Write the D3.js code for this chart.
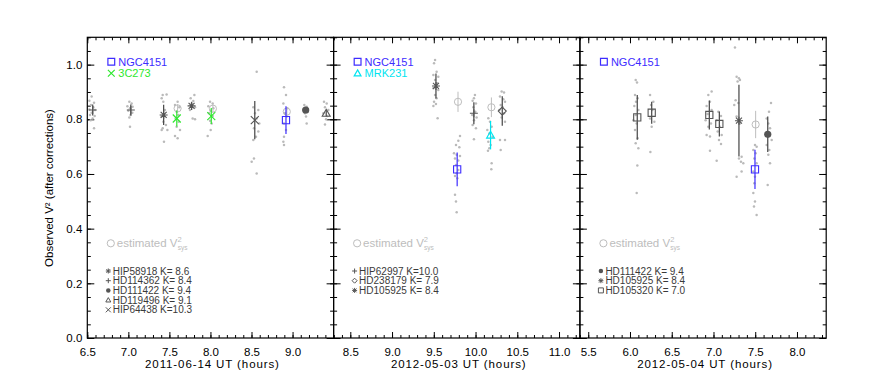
<!DOCTYPE html>
<html>
<head>
<meta charset="utf-8">
<script src="https://cdn.jsdelivr.net/npm/d3@7"></script>
<style>
  body { margin: 0; background: #fff; }
  svg { font-family: "Liberation Sans", Arial, sans-serif; }
  .pre { white-space: pre; }
</style>
</head>
<body>
<div id="chart"></div>
<script>
// ---- data ----
const nightTitles = ['2011-06-14 UT (hours)', '2012-05-03 UT (hours)', '2012-05-04 UT (hours)']
const nightDomains = [[6.5, 9.5], [8.3, 11.25], [5.4, 8.35]]
const night1Ticks = [6.5, 7.0, 7.5, 8.0, 8.5, 9.0]
const night2Ticks = [8.5, 9.0, 9.5, 10.0, 10.5, 11.0]
const night3Ticks = [5.5, 6.0, 6.5, 7.0, 7.5, 8.0]
const yTicks = [0, 0.2, 0.4, 0.6, 0.8, 1.0]

const night1Targets = ['NGC4151', '3C273']
const night2Targets = ['NGC4151', 'MRK231']
const night3Targets = ['NGC4151']

const night1Cals = ['HIP58918', 'HD114362', 'HD111422', 'HD119496', 'HIP64438']
const night1CalK = [8.6, 8.4, 9.4, 9.1, 10.3]
const night2Cals = ['HIP62997', 'HD238179', 'HD105925']
const night2CalK = [10.0, 7.9, 8.4]
const night3Cals = ['HD111422', 'HD105925', 'HD105320']
const night3CalK = [9.4, 8.4, 7.0]

// [star, UT, V2, error]
const night1Stars = [
  ['HD114362', 6.566, 0.834, 0.02],
  ['HD114362', 7.03, 0.834, 0.02],
  ['HIP58918', 7.43, 0.816, 0.037],
  ['3C273', 7.59, 0.803, 0.029],
  ['HIP58918', 7.77, 0.849, 0.015],
  ['3C273', 8.01, 0.812, 0.029],
  ['HIP64438', 8.54, 0.797, 0.07],
  ['NGC4151', 8.92, 0.797, 0.051],
  ['HD111422', 9.16, 0.834, 0.01],
  ['HD119496', 9.41, 0.822, 0.012]
]
const night2Stars = [
  ['HD105925', 9.526, 0.922, 0.046],
  ['NGC4151', 9.78, 0.617, 0.062],
  ['HIP62997', 9.98, 0.822, 0.04],
  ['MRK231', 10.18, 0.742, 0.052],
  ['HD238179', 10.32, 0.830, 0.054]
]
const night3Stars = [
  ['HD105320', 6.087, 0.807, 0.082],
  ['HD105320', 6.26, 0.824, 0.04],
  ['HD105320', 6.95, 0.816, 0.053],
  ['HD105320', 7.07, 0.783, 0.046],
  ['HD105925', 7.305, 0.795, 0.131],
  ['NGC4151', 7.497, 0.617, 0.072],
  ['HD111422', 7.65, 0.745, 0.065]
]

// estimated V2sys: [UT, V2, error]
const night1Sys = [[7.6, 0.840, 0.015], [8.03, 0.839, 0.015], [8.93, 0.828, 0.015]]
const night2Sys = [[9.79, 0.864, 0.037], [10.19, 0.844, 0.036]]
const night3Sys = [[7.505, 0.781, 0.05]]

// individual frames: [UT, V2]
const night1Dots = [
  [6.553,0.883],[6.525,0.868],[6.582,0.861],[6.545,0.852],[6.573,0.844],[6.525,0.836],[6.594,0.834],
  [6.553,0.824],[6.533,0.816],[6.59,0.812],[6.565,0.803],[6.541,0.797],[6.582,0.767],
  [7.012,0.864],[7.04,0.858],[6.988,0.848],[7.052,0.846],[7.02,0.840],[7.0,0.831],[7.048,0.824],
  [7.028,0.816],[7.012,0.807],[7.02,0.773],
  [7.418,0.889],[7.466,0.891],[7.406,0.877],[7.426,0.864],[7.446,0.834],[7.406,0.810],[7.426,0.791],
  [7.458,0.779],[7.418,0.767],[7.475,0.761],[7.434,0.718],[7.406,0.761],
  [7.6,0.864],[7.568,0.852],[7.621,0.844],[7.588,0.828],[7.609,0.816],[7.576,0.803],[7.613,0.791],
  [7.588,0.773],[7.568,0.739],[7.6,0.731],[7.629,0.761],
  [7.804,0.889],[7.759,0.877],[7.791,0.867],[7.771,0.856],[7.812,0.844],[7.751,0.834],[7.783,0.803],[7.812,0.800],
  [7.995,0.864],[8.027,0.858],[7.974,0.848],[8.035,0.840],[8.003,0.831],[7.982,0.822],[8.027,0.812],
  [7.995,0.795],[8.015,0.785],[7.966,0.739],[8.003,0.761],
  [8.563,0.974],[8.522,0.844],[8.583,0.834],[8.543,0.822],[8.563,0.803],[8.595,0.785],[8.53,0.767],
  [8.583,0.755],[8.555,0.736],[8.522,0.724],[8.53,0.657],[8.502,0.645],[8.563,0.602],
  [8.896,0.917],[8.92,0.889],[8.888,0.858],[8.937,0.840],[8.908,0.822],[8.929,0.810],[8.896,0.785],
  [8.92,0.761],[8.896,0.736],[8.888,0.718],[8.896,0.706],
  [9.143,0.852],[9.172,0.846],[9.131,0.834],[9.184,0.828],[9.152,0.822],[9.164,0.810],[9.172,0.785],
  [9.383,0.864],[9.416,0.858],[9.395,0.844],[9.436,0.834],[9.375,0.822],[9.424,0.812],[9.408,0.800],[9.395,0.781]
]
const night2Dots = [
  [9.515,1.017],[9.503,1.005],[9.534,0.974],[9.495,0.962],[9.554,0.956],[9.515,0.944],[9.542,0.932],
  [9.495,0.914],[9.554,0.907],[9.515,0.889],[9.534,0.877],[9.503,0.864],[9.526,0.856],[9.495,0.849],[9.546,0.804],
  [9.814,0.739],[9.794,0.722],[9.766,0.706],[9.806,0.698],[9.742,0.676],[9.774,0.670],[9.814,0.666],
  [9.754,0.657],[9.794,0.649],[9.766,0.633],[9.794,0.615],[9.774,0.603],[9.754,0.593],[9.782,0.584],
  [9.754,0.524],[9.766,0.499],[9.774,0.460],
  [9.993,0.889],[9.981,0.877],[9.965,0.868],[10.005,0.858],[9.973,0.844],[9.997,0.828],[9.961,0.816],
  [10.013,0.807],[9.981,0.797],[9.965,0.779],[10.005,0.767],[9.981,0.727],
  [10.153,0.804],[10.173,0.791],[10.193,0.773],[10.141,0.761],[10.165,0.748],[10.205,0.736],[10.153,0.718],
  [10.181,0.706],[10.165,0.694],[10.149,0.685],[10.193,0.639],[10.189,0.617],
  [10.313,0.902],[10.341,0.898],[10.293,0.883],[10.333,0.873],[10.353,0.864],[10.301,0.852],[10.325,0.844],
  [10.285,0.834],[10.341,0.822],[10.313,0.807],[10.353,0.791],[10.293,0.724],[10.353,0.724],[10.301,0.688]
]
const night3Dots = [
  [6.068,0.944],[6.084,0.935],[6.06,0.889],[6.092,0.877],[6.072,0.864],[6.052,0.849],[6.1,0.834],
  [6.068,0.816],[6.04,0.797],[6.08,0.785],[6.06,0.761],[6.092,0.731],[6.068,0.712],[6.1,0.694],
  [6.088,0.631],[6.08,0.530],
  [6.24,0.889],[6.28,0.864],[6.252,0.852],[6.268,0.834],[6.24,0.803],[6.292,0.791],[6.26,0.773],[6.244,0.680],
  [6.978,0.902],[6.938,0.889],[6.958,0.864],[6.918,0.849],[6.978,0.834],[6.93,0.819],[6.906,0.797],
  [6.97,0.785],[6.938,0.773],[6.918,0.743],[6.958,0.737],[6.958,0.685],
  [7.058,0.828],[7.09,0.812],[7.038,0.797],[7.078,0.773],[7.05,0.755],[7.098,0.743],[7.066,0.724],
  [7.09,0.710],[7.038,0.648],
  [7.257,1.063],[7.277,0.956],[7.305,0.950],[7.289,0.938],[7.317,0.944],[7.265,0.870],[7.297,0.860],
  [7.249,0.852],[7.277,0.810],[7.317,0.785],[7.337,0.663],[7.305,0.657],[7.329,0.645],[7.357,0.639],
  [7.277,0.590],[7.337,0.609],
  [7.497,0.706],[7.517,0.700],[7.477,0.688],[7.505,0.676],[7.489,0.657],[7.517,0.639],[7.477,0.609],
  [7.497,0.590],[7.489,0.566],[7.477,0.530],[7.497,0.499],[7.485,0.481],[7.517,0.450],
  [7.689,0.860],[7.665,0.828],[7.637,0.803],[7.657,0.785],[7.677,0.767],[7.649,0.748],[7.697,0.724],
  [7.637,0.706],[7.669,0.688],[7.657,0.670],[7.677,0.639],[7.649,0.560]
]

// ---- styles ----
const calColor = '#555'
const dotColor = '#bababa'
const sysColor = '#bdbdbd'
const starStyle = {
  'NGC4151': { sym: 'square', color: '#3d2cff' },
  '3C273': { sym: 'x', color: '#2ee82e' },
  'MRK231': { sym: 'triangle', color: '#00e4f0' },
  'HD114362': { sym: 'plus', color: calColor },
  'HIP58918': { sym: 'asterisk', color: calColor },
  'HD111422': { sym: 'circle', color: calColor },
  'HD119496': { sym: 'triangle', color: calColor },
  'HIP64438': { sym: 'x', color: calColor },
  'HIP62997': { sym: 'plus', color: calColor },
  'HD238179': { sym: 'diamond', color: calColor },
  'HD105925': { sym: 'asterisk', color: calColor },
  'HD105320': { sym: 'square', color: calColor }
}

const nights = [
  { title: nightTitles[0], domain: nightDomains[0], ticks: night1Ticks, stars: night1Stars, sys: night1Sys,
    dots: night1Dots, targets: night1Targets, cals: night1Cals, calK: night1CalK },
  { title: nightTitles[1], domain: nightDomains[1], ticks: night2Ticks, stars: night2Stars, sys: night2Sys,
    dots: night2Dots, targets: night2Targets, cals: night2Cals, calK: night2CalK },
  { title: nightTitles[2], domain: nightDomains[2], ticks: night3Ticks, stars: night3Stars, sys: night3Sys,
    dots: night3Dots, targets: night3Targets, cals: night3Cals, calK: night3CalK }
]

// ---- layout ----
const width = 872
const height = 377
const margin = { top: 37.3, left: 87.3 }
const panelW = 246.3
const panelH = 300.7

const svg = d3.select('#chart')
  .append('svg')
  .attr('width', width)
  .attr('height', height)

const yScale = d3.scaleLinear().domain([0, 1.1]).range([panelH, 0])

function symbolPath(sym, x, y, r) {
  const plus = `M${x - r},${y}H${x + r}M${x},${y - r}V${y + r}`
  const cross = `M${x - r},${y - r}L${x + r},${y + r}M${x - r},${y + r}L${x + r},${y - r}`
  switch (sym) {
    case 'square': return `M${x - r},${y - r}h${2 * r}v${2 * r}h${-2 * r}Z`
    case 'plus': return plus
    case 'x': return cross
    case 'asterisk': {
      const d = r * 0.75
      return plus + `M${x - d},${y - d}L${x + d},${y + d}M${x - d},${y + d}L${x + d},${y - d}`
    }
    case 'triangle': return `M${x},${y - r}L${x + r},${y + r * 0.75}L${x - r},${y + r * 0.75}Z`
    case 'diamond': return `M${x},${y - r}L${x + r},${y}L${x},${y + r}L${x - r},${y}Z`
  }
  return ''
}

function drawSymbol(g, star, x, y, r, sw) {
  const st = starStyle[star]
  if (st.sym === 'circle') {
    g.append('circle').attr('cx', x).attr('cy', y).attr('r', r * 0.9)
      .attr('fill', st.color)
    return
  }
  g.append('path')
    .attr('d', symbolPath(st.sym, x, y, r))
    .attr('fill', 'none')
    .attr('stroke', st.color)
    .attr('stroke-width', sw)
}

nights.forEach((night, i) => {
  const x0 = margin.left + i * panelW
  const g = svg.append('g').attr('transform', `translate(${x0}, ${margin.top})`)

  const xScale = d3.scaleLinear().domain(night.domain).range([0, panelW])
  const xMinor = xScale.ticks(30)
  const yMinor = yScale.ticks(22)

  // ---- axes: ticks inside on all four sides ----
  const addAxis = (axis, transform) => {
    const a = g.append('g').attr('transform', transform).call(axis)
    a.select('.domain').remove()
    a.selectAll('line').attr('stroke', '#000').attr('stroke-width', 1)
    return a
  }

  addAxis(d3.axisBottom(xScale).tickValues(xMinor).tickSize(-3).tickFormat(''), `translate(0, ${panelH})`)
  addAxis(d3.axisTop(xScale).tickValues(xMinor).tickSize(-3).tickFormat(''), 'translate(0, 0)')
  addAxis(d3.axisTop(xScale).tickValues(night.ticks).tickSize(-6).tickFormat(''), 'translate(0, 0)')
  const xAxis = addAxis(d3.axisBottom(xScale).tickValues(night.ticks).tickSize(-6)
    .tickPadding(10).tickFormat(d3.format('.1f')), `translate(0, ${panelH})`)
  xAxis.selectAll('text').attr('font-size', 11.5).attr('fill', '#000')
    .attr('font-family', '"Liberation Sans", Arial, sans-serif')

  addAxis(d3.axisLeft(yScale).tickValues(yMinor).tickSize(-3.5).tickFormat(''), 'translate(0, 0)')
  addAxis(d3.axisRight(yScale).tickValues(yMinor).tickSize(-3.5).tickFormat(''), `translate(${panelW}, 0)`)
  addAxis(d3.axisRight(yScale).tickValues(yTicks).tickSize(-7).tickFormat(''), `translate(${panelW}, 0)`)
  const yAxis = addAxis(d3.axisLeft(yScale).tickValues(yTicks).tickSize(-7).tickPadding(5)
    .tickFormat(i === 0 ? d3.format('.1f') : ''), 'translate(0, 0)')
  yAxis.selectAll('text').attr('font-size', 11.5).attr('fill', '#000')
    .attr('font-family', '"Liberation Sans", Arial, sans-serif')

  // frame
  g.append('rect')
    .attr('width', panelW)
    .attr('height', panelH)
    .attr('fill', 'none')
    .attr('stroke', '#000')
    .attr('stroke-width', 1.2)

  // x title
  g.append('text')
    .attr('x', panelW / 2 + 2)
    .attr('y', 368 - margin.top)
    .attr('text-anchor', 'middle')
    .attr('font-size', 11.5)
    .attr('letter-spacing', 0.9)
    .text(night.title)

  // ---- individual frames ----
  g.append('g')
    .selectAll('circle')
    .data(night.dots)
    .join('circle')
    .attr('cx', d => xScale(d[0]))
    .attr('cy', d => yScale(d[1]))
    .attr('r', 1.25)
    .attr('fill', dotColor)

  // ---- estimated V2sys ----
  night.sys.forEach(d => {
    g.append('line')
      .attr('x1', xScale(d[0])).attr('x2', xScale(d[0]))
      .attr('y1', yScale(d[1] - d[2])).attr('y2', yScale(d[1] + d[2]))
      .attr('stroke', sysColor).attr('stroke-width', 1)
    g.append('circle')
      .attr('cx', xScale(d[0])).attr('cy', yScale(d[1])).attr('r', 3.6)
      .attr('fill', 'none').attr('stroke', sysColor).attr('stroke-width', 1)
  })

  // ---- averaged points with error bars ----
  night.stars.forEach(d => {
    const [star, t, v, err] = d
    const st = starStyle[star]
    const cx = xScale(t)
    g.append('line')
      .attr('x1', cx).attr('x2', cx)
      .attr('y1', yScale(v - err)).attr('y2', yScale(v + err))
      .attr('stroke', st.color === calColor ? '#444' : st.color)
      .attr('stroke-width', 1.2)
    const r = st.sym === 'square' ? 3.6 : 4
    drawSymbol(g, star, cx, yScale(v), r, 1.1)
  })

  // ---- legends ----
  night.targets.forEach((name, k) => {
    const ly = 61.7 + k * 11.6 - margin.top
    drawSymbol(g, name, 24, ly, 3.4, 1.2)
    g.append('text')
      .attr('x', 31)
      .attr('y', ly + 4)
      .attr('font-size', 11)
      .attr('fill', starStyle[name].color)
      .text(name)
  })

  const sysY = 243.3 - margin.top
  g.append('circle')
    .attr('cx', 23.5).attr('cy', sysY).attr('r', 3.6)
    .attr('fill', 'none').attr('stroke', sysColor).attr('stroke-width', 1)
  const sysText = g.append('text')
    .attr('x', 29.5)
    .attr('y', sysY + 4)
    .attr('font-size', 11.5)
    .attr('fill', sysColor)
  sysText.append('tspan').text('estimated V')
  sysText.append('tspan').attr('dy', -5).attr('font-size', 7.5).text('2')
  sysText.append('tspan').attr('dx', -4).attr('dy', 8).attr('font-size', 6.5).text('sys')

  const kFormat = d3.format('4.1f')
  night.cals.forEach((name, k) => {
    const ly = 271 + k * 9.7 - margin.top
    drawSymbol(g, name, 21, ly, 2.5, 1)
    g.append('text')
      .attr('class', 'pre')
      .attr('x', 25.5)
      .attr('y', ly + 3.6)
      .attr('font-size', 10)
      .attr('fill', '#3a3a3a')
      .text(`${name} K=${kFormat(night.calK[k])}`)
  })
})

// y title
svg.append('text')
  .attr('transform', `translate(53, 188) rotate(-90)`)
  .attr('text-anchor', 'middle')
  .attr('font-size', 11.5)
  .text('Observed V² (after corrections)')
</script>
</body>
</html>
